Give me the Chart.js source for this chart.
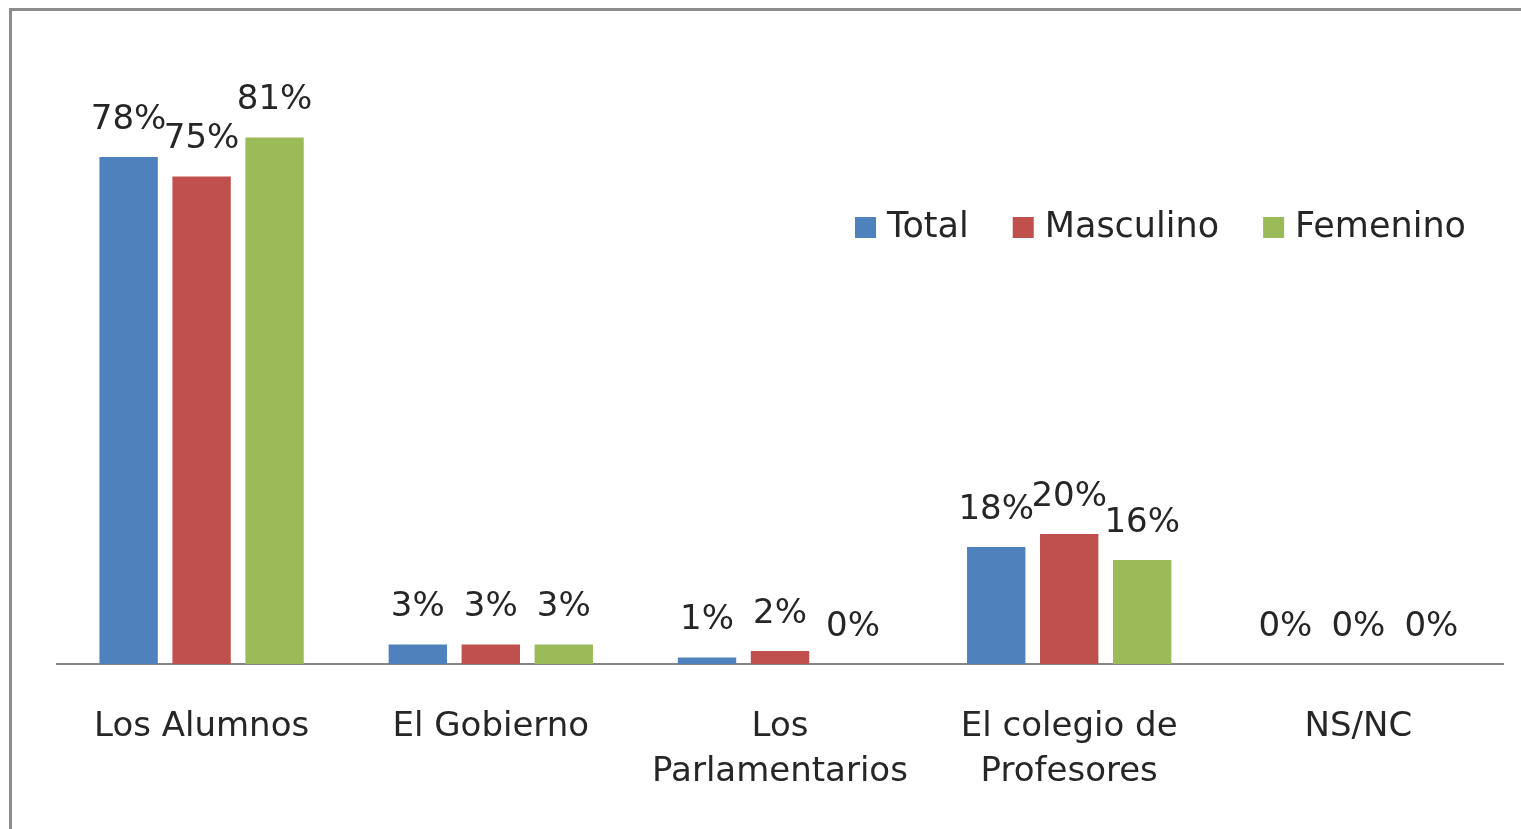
<!DOCTYPE html>
<html>
<head>
<meta charset="utf-8">
<script src="https://cdn.jsdelivr.net/npm/chart.js@4"></script>
<style>
  html, body { margin: 0; padding: 0; background: #fff; overflow: hidden; }
  #wrap { position: relative; width: 1521px; height: 829px; }
  #frame { position: absolute; left: 9px; top: 8px; width: 1600px; height: 900px;
           border-left: 3px solid #8c8c8c; border-top: 3px solid #8c8c8c; pointer-events: none; }
</style>
</head>
<body>
<div id="wrap">
  <canvas id="chart" width="1521" height="829"></canvas>
  <div id="frame"></div>
</div>
<script>
const categories = ['Los Alumnos', 'El Gobierno', ['Los', 'Parlamentarios'], ['El colegio de', 'Profesores'], 'NS/NC'];
const seriesNames = ['Total', 'Masculino', 'Femenino'];
const totalValues = [78, 3, 1, 18, 0];
const masculinoValues = [75, 3, 2, 20, 0];
const femeninoValues = [81, 3, 0, 16, 0];
const colors = ['#4F81BD', '#C0504D', '#9BBB59'];

const FONT = 'DejaVu Sans';
const TEXT = '#262626';

// value labels above each bar
const barLabels = {
  id: 'barLabels',
  afterDatasetsDraw(chart) {
    const ctx = chart.ctx;
    ctx.save();
    ctx.font = '34px "' + FONT + '"';
    ctx.fillStyle = TEXT;
    ctx.textAlign = 'center';
    ctx.textBaseline = 'middle';
    chart.data.datasets.forEach((ds, i) => {
      chart.getDatasetMeta(i).data.forEach((bar, j) => {
        ctx.fillText(ds.data[j] + '%', bar.x, bar.y - 37);
      });
    });
    ctx.restore();
  }
};

// legend floating at top right, like the excel one
const floatLegend = {
  id: 'floatLegend',
  afterDraw(chart) {
    const ctx = chart.ctx;
    ctx.save();
    ctx.font = '35px "' + FONT + '"';
    ctx.textBaseline = 'middle';
    let x = 855;
    const y = 227;
    chart.data.datasets.forEach(ds => {
      ctx.fillStyle = ds.backgroundColor;
      ctx.fillRect(x, y - 10, 21, 21);
      ctx.fillStyle = TEXT;
      ctx.fillText(ds.label, x + 32, y + 1);
      x += 32 + ctx.measureText(ds.label).width + 44;
    });
    ctx.restore();
  }
};

new Chart(document.getElementById('chart'), {
  type: 'bar',
  data: {
    labels: categories,
    datasets: [
      { label: seriesNames[0], data: totalValues, backgroundColor: colors[0] },
      { label: seriesNames[1], data: masculinoValues, backgroundColor: colors[1] },
      { label: seriesNames[2], data: femeninoValues, backgroundColor: colors[2] },
    ],
  },
  options: {
    responsive: false,
    animation: false,
    categoryPercentage: 0.757,
    barPercentage: 0.8,
    layout: { padding: { left: 57, right: 18, top: 14, bottom: 0 } },
    plugins: {
      legend: { display: false },
      tooltip: { enabled: false },
    },
    scales: {
      x: {
        grid: { display: false, drawTicks: false },
        border: { display: true, color: '#868686', width: 2 },
        ticks: {
          color: TEXT,
          font: { family: FONT, size: 34, lineHeight: 1.32 },
          padding: 41,
          maxRotation: 0,
          autoSkip: false,
        },
        afterFit(scale) { scale.height = 165; },
      },
      y: {
        display: false,
        min: 0,
        max: 100,
      },
    },
  },
  plugins: [barLabels, floatLegend],
});
</script>
</body>
</html>
